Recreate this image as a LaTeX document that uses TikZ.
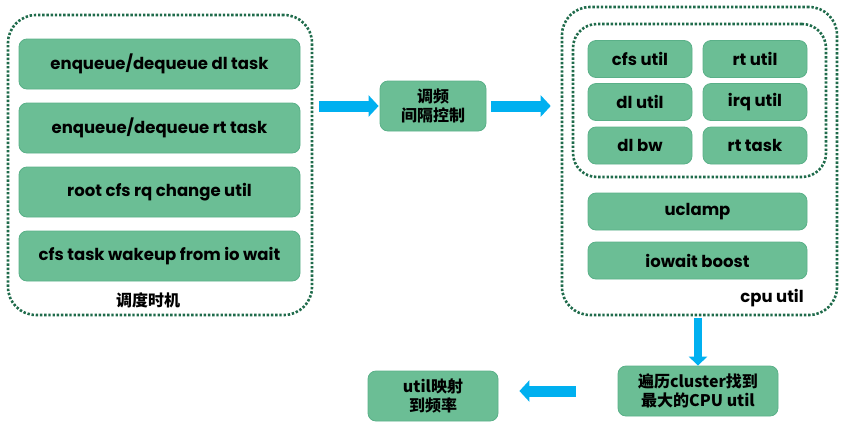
\documentclass[tikz,border=0pt]{standalone}
\usepackage{fontspec}
\setmainfont{Poppins}
\newfontfamily\cjk{Noto Sans CJK SC}
\usetikzlibrary{arrows.meta}
\definecolor{boxfill}{HTML}{6BBE95}
\definecolor{boxline}{HTML}{5AB088}
\definecolor{dotgreen}{HTML}{1F6B4B}
\definecolor{arrowblue}{HTML}{00B0F0}
\begin{document}
\begin{tikzpicture}[x=1pt,y=-1pt,
  gbox/.style={draw=boxline, line width=0.8pt, fill=boxfill, rounded corners=8pt, inner sep=0pt, align=center, font=\fontsize{16.5}{19}\selectfont\bfseries},
  cbox/.style={gbox, font=\cjk\fontsize{16}{19.5}\selectfont\bfseries},
  dotbox/.style={draw=dotgreen, line width=2.6pt, dash pattern=on 2.4pt off 1.8pt, rounded corners=28pt, inner sep=0pt},
  blockarrow/.style={draw=arrowblue, line width=11pt, -{Triangle[length=10pt,width=21pt]}},
  lbl/.style={font=\fontsize{16.5}{19}\selectfont\bfseries, inner sep=0pt}
]
\useasboundingbox (0,0) rectangle (842,429);
% left group
\node[dotbox, minimum width=304pt, minimum height=300pt] (outerL) at (160,165) {};
\node[gbox, minimum width=281pt, minimum height=50pt] (l1) at (159.5,64) {enqueue/dequeue dl task};
\node[gbox, minimum width=281pt, minimum height=50pt] (l2) at (159.5,128) {enqueue/dequeue rt task};
\node[gbox, minimum width=281pt, minimum height=50pt] (l3) at (159.5,192) {root cfs rq change util};
\node[gbox, minimum width=281pt, minimum height=50pt] (l4) at (159.5,256) {cfs task wakeup from io wait};
\node[lbl, font=\cjk\fontsize{16}{19}\selectfont\bfseries] (lblL) at (148,300) {调度时机};
% middle
\node[cbox, minimum width=106pt, minimum height=50pt] (mid) at (433,106) {调频\\间隔控制};
% right group
\node[dotbox, minimum width=275pt, minimum height=308pt] (outerR) at (699.5,161) {};
\node[dotbox, rounded corners=24pt, minimum width=253pt, minimum height=153pt] (innerR) at (699.5,100.5) {};
\node[gbox, minimum width=104pt, minimum height=37pt] (cfs) at (640,59) {cfs util};
\node[gbox, minimum width=104pt, minimum height=37pt] (rt) at (755,59) {rt util};
\node[gbox, minimum width=104pt, minimum height=37pt] (dl) at (640,102) {dl util};
\node[gbox, minimum width=104pt, minimum height=37pt] (irq) at (755,102) {irq util};
\node[gbox, minimum width=104pt, minimum height=37pt] (dlbw) at (640,145.5) {dl bw};
\node[gbox, minimum width=104pt, minimum height=37pt] (rttask) at (755,145.5) {rt task};
\node[gbox, minimum width=219pt, minimum height=37pt] (uclamp) at (697.5,211.5) {uclamp};
\node[gbox, minimum width=219pt, minimum height=37pt] (iowait) at (697.5,260.5) {iowait boost};
\node[lbl] (lblR) at (772,298) {cpu util};
% bottom
\node[cbox, minimum width=160pt, minimum height=50pt] (br) at (698,391) {遍历cluster找到\\最大的CPU util};
\node[cbox, minimum width=130pt, minimum height=50pt] (bl) at (433,396) {util映射\\到频率};
% arrows
\draw[blockarrow, shorten <=6pt, shorten >=1pt] (outerL.east |- mid.west) -- (mid.west);
\draw[blockarrow, shorten <=5pt, shorten >=10pt] (mid.east) -- (mid.east -| outerR.west);
\draw[blockarrow, line width=8pt, -{Triangle[length=9pt,width=18pt]}, shorten <=2pt] (br.north |- outerR.south) -- (br.north);
\draw[blockarrow, shorten <=42pt, shorten >=21pt] (br.west) -- (br.west -| bl.east);
\end{tikzpicture}
\end{document}
